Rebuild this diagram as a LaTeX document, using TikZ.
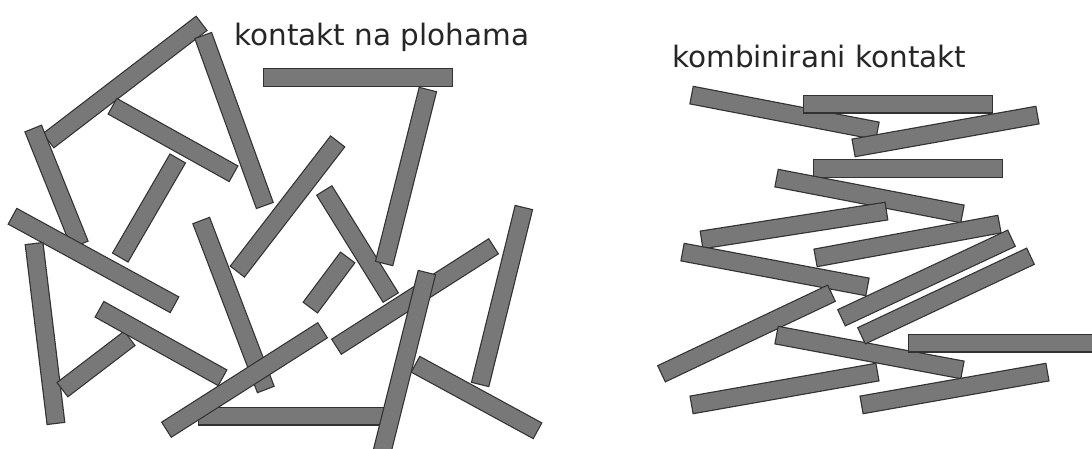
\documentclass[tikz,border=0pt]{standalone}
\usepackage{fontspec}
\setmainfont{DejaVu Sans}
\definecolor{rodfill}{RGB}{120,120,120}
\definecolor{rodedge}{RGB}{50,50,50}
\tikzset{
  rodout/.style={line width=19pt, draw=rodedge, line cap=butt},
  rodin/.style={line width=16.6pt, draw=rodfill, line cap=butt, shorten <=1.2pt, shorten >=1.2pt},
  lbl/.style={anchor=base west, inner sep=0pt, font=\fontsize{29.5}{32}\selectfont, text=black!85}
}
\newcommand\rod[2]{\draw[rodout] #1 -- #2; \draw[rodin] #1 -- #2;}
\begin{document}
\begin{tikzpicture}[x=1pt,y=-1pt]
\useasboundingbox (0,0) rectangle (1092,448);
\clip (0,0) rectangle (1092,448);
\fill[white] (0,0) rectangle (1092,448);
% left group: kontakt na plohama
\rod{(263,77.5)}{(453,77.5)}
\rod{(48,141)}{(202,23)}
\rod{(203,35)}{(265,206)}
\rod{(112,106)}{(234,174)}
\rod{(178,158)}{(120,258)}
\rod{(33,128)}{(80,245)}
\rod{(12,216)}{(175,305)}
\rod{(34,243)}{(56,424)}
\rod{(62,390)}{(130,338)}
\rod{(99,309)}{(223,378)}
\rod{(338,141)}{(237,272)}
\rod{(201,220)}{(266,390)}
\rod{(198,416)}{(390,416)}
\rod{(166,430)}{(323,330)}
\rod{(324,190)}{(391,298)}
\rod{(428,89)}{(384,264)}
\rod{(348,257)}{(310,308)}
\rod{(415,364)}{(538,431)}
\rod{(524,207)}{(480,385)}
\rod{(336,347)}{(494,246)}
\rod{(427,272)}{(381,456)}
\node[lbl] (t1) at (234,45) {kontakt na plohama};
% right group: kombinirani kontakt
\rod{(691,95)}{(878,131)}
\rod{(803,104)}{(993,104)}
\rod{(853,148)}{(1038,115)}
\rod{(813,168.5)}{(1003,168.5)}
\rod{(776,178)}{(963,214)}
\rod{(701,240)}{(887,211)}
\rod{(682,252)}{(868,287)}
\rod{(815,258)}{(1000,224)}
\rod{(661,374)}{(832,293)}
\rod{(841,318)}{(1012,238)}
\rod{(776,335)}{(963,370)}
\rod{(861,336)}{(1031,256)}
\rod{(908,343)}{(1100,343)}
\rod{(691,405)}{(878,372)}
\rod{(861,405)}{(1048,372)}
\node[lbl] (t2) at (672,67) {kombinirani kontakt};
\end{tikzpicture}
\end{document}
